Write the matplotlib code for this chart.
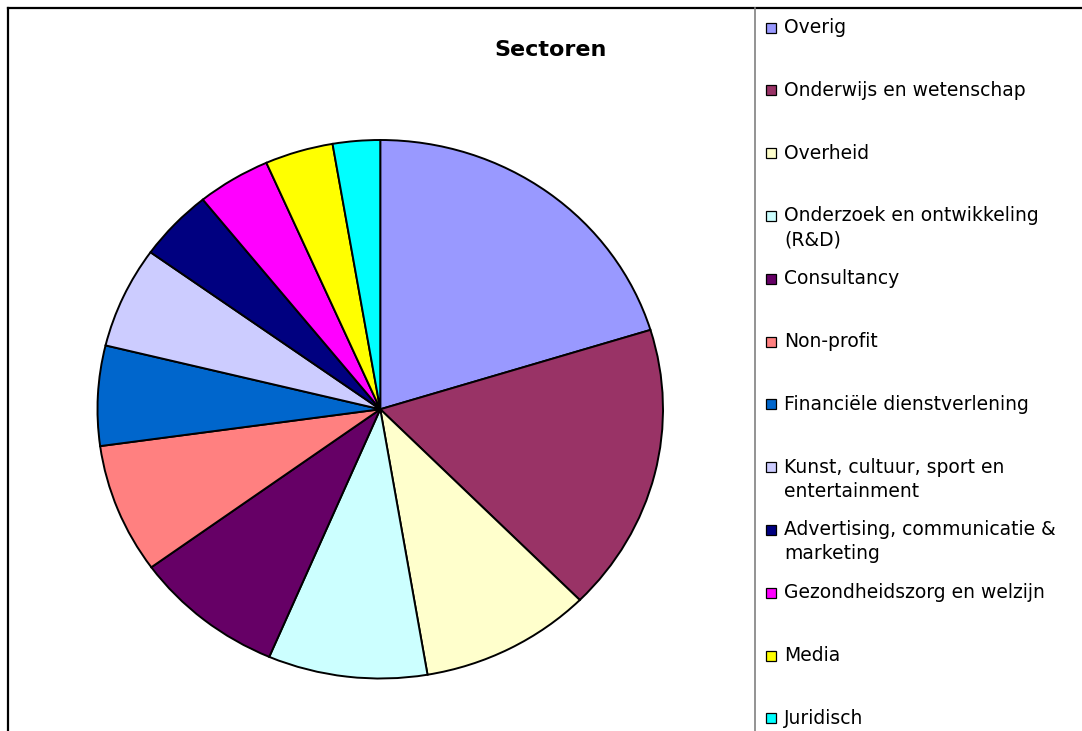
import matplotlib
matplotlib.use("Agg")
import matplotlib.pyplot as plt
from matplotlib.lines import Line2D
from matplotlib.patches import Rectangle

categories = ["Overig", "Onderwijs en wetenschap", "Overheid",
              "Onderzoek en ontwikkeling\n(R&D)", "Consultancy", "Non-profit",
              "Financiële dienstverlening", "Kunst, cultuur, sport en\nentertainment",
              "Advertising, communicatie &\nmarketing", "Gezondheidszorg en welzijn",
              "Media", "Juridisch"]
values = [20.25, 17.3, 9.8, 9.1, 8.6, 7.8, 6.0, 6.1, 4.3, 4.2, 3.9, 2.7]
colors = ["#9999FF", "#993366", "#FFFFCC", "#CCFFFF", "#660066", "#FF8080",
          "#0066CC", "#CCCCFF", "#000080", "#FF00FF", "#FFFF00", "#00FFFF"]
title = "Sectoren"

W, H = 1082, 731
fig = plt.figure(figsize=(W / 100, H / 100), dpi=100)
plt.rcParams['font.family'] = ['DejaVu Sans']

def fx(x):
    return x / W

def fy(y):
    return 1 - y / H

# pie axes (slightly elliptical as in the reference)
left, right, top, bottom = 97.5, 663.0, 140.0, 678.5
ax = fig.add_axes([fx(left), fy(bottom), (right - left) / W, (bottom - top) / H])
ax.pie(values, colors=colors, startangle=90, counterclock=False, radius=1,
       wedgeprops=dict(edgecolor="black", linewidth=1.4))
ax.set_aspect('auto')
ax.set_xlim(-1, 1)
ax.set_ylim(-1, 1)
ax.axis('off')

# chart border (left & top) and legend separator
fig.add_artist(Line2D([fx(7.5), fx(7.5)], [fy(7.5), 0], color="black", lw=1.6,
                      transform=fig.transFigure))
fig.add_artist(Line2D([fx(7.5), 1], [fy(7.5), fy(7.5)], color="black", lw=1.6,
                      transform=fig.transFigure))
fig.add_artist(Line2D([fx(755), fx(755)], [fy(7.5), 0], color="#808080", lw=1.2,
                      transform=fig.transFigure))

fig.text(fx(551), fy(50), title, ha="center", va="center", fontsize=16,
         fontweight="bold")

# legend
y0, step = 27.5, 62.8
for i, (lab, c) in enumerate(zip(categories, colors)):
    yc = y0 + step * i
    fig.add_artist(Rectangle((fx(765.5), fy(yc + 5)), 10 / W, 10 / H,
                             facecolor=c, edgecolor="black", lw=0.9,
                             transform=fig.transFigure))
    for j, ln in enumerate(lab.split("\n")):
        fig.text(fx(784), fy(yc + 24 * j), ln, ha="left", va="center", fontsize=13.5)

fig.savefig("out.png", dpi=100)
